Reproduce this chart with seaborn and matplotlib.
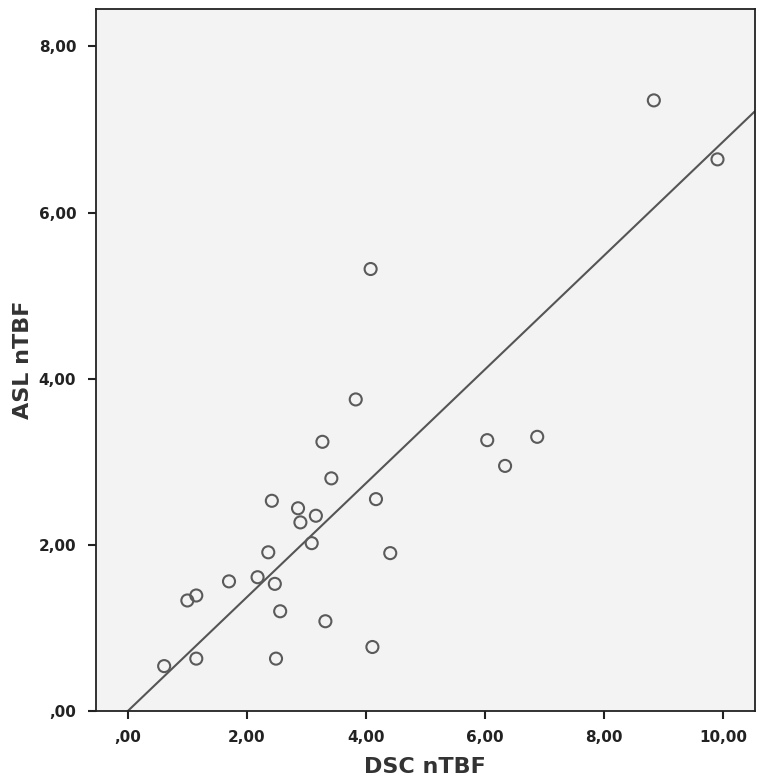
import numpy as np
import pandas as pd
import seaborn as sns
import matplotlib.pyplot as plt
from matplotlib.ticker import FuncFormatter

# values
dsc_ntbf = [3.83, 3.27, 3.42, 2.42, 4.17, 2.86, 2.90, 3.16, 3.09, 2.36,
            4.41, 1.70, 2.18, 2.47, 1.00, 1.15, 2.56, 3.32, 4.11, 0.61,
            1.15, 2.49, 4.08, 6.04, 6.34, 6.88, 8.84, 9.91]
asl_ntbf = [3.75, 3.24, 2.80, 2.53, 2.55, 2.44, 2.27, 2.35, 2.02, 1.91,
            1.90, 1.56, 1.61, 1.53, 1.33, 1.39, 1.20, 1.08, 0.77, 0.54,
            0.63, 0.63, 5.32, 3.26, 2.95, 3.30, 7.35, 6.64]
x_ticks = [0, 2, 4, 6, 8, 10]
y_ticks = [0, 2, 4, 6, 8]

# fit line as drawn in the reference
fit_intercept = 0.0
fit_slope = 0.685

df = pd.DataFrame({"DSC nTBF": dsc_ntbf, "ASL nTBF": asl_ntbf})

sns.set_style("ticks")
plt.rcParams['font.family'] = ['DejaVu Sans']

fig = plt.figure(figsize=(7.64, 7.83), dpi=100)
ax = fig.add_axes([0.1253, 0.092, 0.8629, 0.8965])
ax.set_facecolor("#f3f3f3")

sns.scatterplot(data=df, x="DSC nTBF", y="ASL nTBF", ax=ax, s=75,
                facecolors="none", edgecolor="#5a5a5a", linewidth=1.5, zorder=3)
ax.axline((0, fit_intercept), slope=fit_slope, color="#555555", linewidth=1.5, zorder=2)

ax.set_xlim(-0.54, 10.54)
ax.set_ylim(0, 8.45)


def comma_fmt(v, pos):
    s = f"{v:.2f}".replace(".", ",")
    return s[1:] if s.startswith("0") else s


ax.set_xticks(x_ticks)
ax.set_yticks(y_ticks)
ax.xaxis.set_major_formatter(FuncFormatter(comma_fmt))
ax.yaxis.set_major_formatter(FuncFormatter(comma_fmt))
ax.tick_params(axis="both", direction="out", length=6, width=1.5, color="#222222",
               labelsize=11, pad=8)
for lab in ax.get_xticklabels() + ax.get_yticklabels():
    lab.set_fontweight("bold")
    lab.set_color("#222222")

for sp in ax.spines.values():
    sp.set_color("#222222")
    sp.set_linewidth(1.3)

ax.set_xlabel("DSC nTBF", fontsize=16, fontweight="bold", color="#333333", labelpad=8)
ax.set_ylabel("ASL nTBF", fontsize=16, fontweight="bold", color="#333333", labelpad=4)

plt.savefig("out.png", dpi=100)
